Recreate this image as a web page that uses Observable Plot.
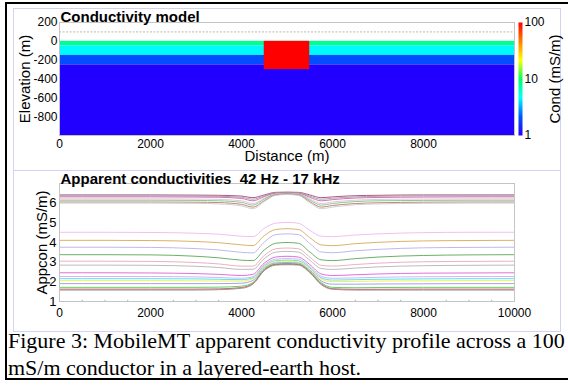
<!DOCTYPE html>
<html><head><meta charset="utf-8">
<script src="https://cdn.jsdelivr.net/npm/d3@7"></script>
<script src="https://cdn.jsdelivr.net/npm/@observablehq/plot@0.6"></script>
<style>
body{margin:0;background:#fff;}
#fig{position:relative;width:568px;height:385px;overflow:hidden;background:#fff;font-family:"Liberation Sans",Arial,sans-serif;}
#fig svg{position:absolute;left:0;top:0;overflow:visible;background:transparent;}
.outer{position:absolute;left:5px;top:2px;width:620px;height:374px;border:2px solid #000;border-right:none;}
.panel{position:absolute;left:13px;top:8px;width:546px;height:322px;border:1.5px solid #d2d2f4;}
.divider{position:absolute;left:13px;top:169.5px;width:548px;height:0;border-top:1.5px solid #d2d2f4;}
.caption{position:absolute;left:8px;top:327px;font-family:"Liberation Serif","Times New Roman",serif;font-size:22px;line-height:27px;white-space:nowrap;color:#000;}
</style></head>
<body>
<div id="fig">
  <div class="outer"></div>
  <div class="panel"></div>
  <div class="divider"></div>
  <div class="caption">Figure 3: MobileMT apparent conductivity profile across a 100<br>mS/m conductor in a layered-earth host.</div>
</div>
<script>
// ---------- Data ----------
// Conductivity model (top panel)
const layerTop    = [0, -50, -150, -250];
const layerBottom = [-50, -150, -250, -1000];
const layerCond   = [8, 4.5, 2, 1];          // mS/m
const blockX      = [4500, 5500];
const blockZ      = [0, -300];
const blockCond   = 100;                     // mS/m
const sensorElevation = 100;
const modelXTicks = [0, 2000, 4000, 6000, 8000];
const modelYTicks = [200, 0, -200, -400, -600, -800];
const condTicks   = [1, 10, 100];

// Apparent conductivities (bottom panel)
const distances = [0,1000,2000,3000,3500,4000,4250,4500,4750,5000,5250,5500,5750,6000,6500,7000,8000,9000,10000];
const s01 = [6.42,6.42,6.42,6.41,6.40,6.36,6.28,6.42,6.55,6.56,6.55,6.42,6.28,6.32,6.38,6.40,6.42,6.42,6.42];
const s02 = [6.37,6.37,6.37,6.36,6.35,6.30,6.20,6.38,6.53,6.55,6.53,6.36,6.20,6.25,6.32,6.35,6.37,6.37,6.37];
const s03 = [6.32,6.32,6.32,6.31,6.30,6.24,6.12,6.33,6.50,6.52,6.50,6.30,6.12,6.18,6.26,6.29,6.31,6.32,6.32];
const s04 = [6.22,6.22,6.22,6.21,6.19,6.12,5.98,6.25,6.47,6.50,6.47,6.22,5.98,6.06,6.15,6.19,6.21,6.22,6.22];
const s05 = [6.15,6.15,6.15,6.14,6.12,6.04,5.90,6.20,6.45,6.48,6.45,6.16,5.90,5.98,6.08,6.12,6.14,6.15,6.15];
const s06 = [6.06,6.06,6.06,6.05,6.03,5.94,5.80,6.12,6.42,6.46,6.42,6.08,5.80,5.88,5.98,6.02,6.05,6.06,6.06];
const s07 = [6.00,6.00,6.00,5.99,5.96,5.86,5.72,6.08,6.40,6.44,6.40,6.02,5.72,5.80,5.92,5.96,5.99,6.00,6.00];
const s08 = [4.52,4.52,4.51,4.47,4.42,4.32,4.30,4.72,4.98,5.02,4.98,4.62,4.32,4.30,4.38,4.44,4.50,4.52,4.52];
const s09 = [4.11,4.11,4.10,4.05,3.99,3.88,3.84,4.35,4.66,4.70,4.66,4.25,3.88,3.84,3.94,4.01,4.08,4.10,4.11];
const s10 = [3.76,3.76,3.75,3.69,3.62,3.50,3.47,4.02,4.40,4.44,4.40,3.95,3.52,3.48,3.58,3.65,3.73,3.75,3.76];
const s11 = [3.38,3.38,3.37,3.30,3.22,3.10,3.08,3.62,3.96,4.00,3.96,3.52,3.12,3.08,3.18,3.26,3.34,3.37,3.38];
const s12 = [3.05,3.05,3.04,2.98,2.91,2.80,2.80,3.34,3.68,3.72,3.68,3.26,2.84,2.80,2.88,2.95,3.02,3.04,3.05];
const s13 = [2.85,2.85,2.84,2.79,2.73,2.63,2.64,3.18,3.51,3.55,3.51,3.10,2.68,2.63,2.70,2.76,2.82,2.84,2.85];
const s14 = [2.46,2.46,2.45,2.42,2.38,2.32,2.38,2.95,3.26,3.30,3.26,2.88,2.40,2.32,2.36,2.40,2.44,2.45,2.46];
const s15 = [2.27,2.27,2.27,2.25,2.22,2.18,2.26,2.86,3.15,3.18,3.15,2.78,2.28,2.18,2.20,2.23,2.26,2.27,2.27];
const s16 = [2.16,2.16,2.16,2.15,2.13,2.11,2.20,2.80,3.07,3.10,3.07,2.72,2.20,2.09,2.11,2.13,2.15,2.16,2.16];
const s17 = [2.06,2.06,2.06,2.05,2.04,2.04,2.15,2.76,3.02,3.05,3.02,2.67,2.14,2.01,2.02,2.04,2.05,2.06,2.06];
const s18 = [1.91,1.91,1.91,1.91,1.91,1.93,2.07,2.70,2.96,2.98,2.96,2.60,2.05,1.88,1.88,1.89,1.90,1.91,1.91];
const s19 = [1.72,1.72,1.72,1.72,1.73,1.78,1.96,2.64,2.91,2.93,2.91,2.54,1.96,1.72,1.70,1.71,1.72,1.72,1.72];
const s20 = [1.63,1.63,1.63,1.63,1.64,1.71,1.91,2.60,2.88,2.90,2.88,2.50,1.90,1.65,1.62,1.62,1.63,1.63,1.63];
const s21 = [1.58,1.58,1.58,1.58,1.60,1.67,1.88,2.57,2.85,2.87,2.85,2.47,1.86,1.62,1.58,1.58,1.58,1.58,1.58];
const appconSeries = [s01,s02,s03,s04,s05,s06,s07,s08,s09,s10,s11,s12,s13,s14,s15,s16,s17,s18,s19,s20,s21];
const appconXTicks = [0, 2000, 4000, 6000, 8000, 10000];
const appconYTicks = [1, 2, 3, 4, 5, 6];
const minorXTicks  = [500,1000,1500,2500,3000,3500,4500,5000,5500,6500,7000,7500,8500,9000,9500];

// ---------- Styles ----------
const lineColors = ["#a04878","#a89aa8","#c868a8","#e8b8e0","#78c878","#b87878","#cccccc",
  "#f0b8f0","#d8a858","#b8b0ec","#58a858","#e8a8b8","#b4b4b4","#d860d8","#c8b0f0",
  "#48e0e8","#f0f048","#9898e8","#58c858","#c85050","#909090"];
const jet = d3.piecewise(d3.interpolateRgb, ["#2200ff","#0055ff","#00ffff","#00ff66","#ffff00","#ff8000","#ff0000"]);
const font = "'Liberation Sans', Arial, sans-serif";
const plain = d => String(d);
const fig = document.getElementById("fig");

// ---------- Top panel: conductivity model ----------
const layers = layerTop.map((t, i) => ({x1: 0, x2: 10000, y1: t, y2: layerBottom[i], cond: layerCond[i]}));
const block = [{x1: blockX[0], x2: blockX[1], y1: blockZ[0], y2: blockZ[1], cond: blockCond}];

const model = Plot.plot({
  width: 568, height: 170,
  marginLeft: 59, marginRight: 54, marginTop: 22, marginBottom: 35,
  style: {fontFamily: font, fontSize: "12px", color: "#000", background: "transparent", overflow: "visible"},
  x: {domain: [0, 10000], axis: null},
  y: {domain: [-1000, 200], axis: null},
  color: {type: "log", domain: [1, 100], interpolate: jet},
  marks: [
    Plot.rect(layers, {x1: "x1", x2: "x2", y1: "y1", y2: "y2", fill: "cond"}),
    Plot.rect(block, {x1: "x1", x2: "x2", y1: "y1", y2: "y2", fill: "cond"}),
    Plot.ruleY([sensorElevation], {stroke: "#b8b8b8", strokeDasharray: "2,1.5"}),
    Plot.frame({stroke: "#c4c4c4"}),
    Plot.axisX(modelXTicks, {tickSize: 0, tickPadding: 4, label: null, fontSize: 12, tickFormat: plain}),
    Plot.axisY(modelYTicks, {tickSize: 0, tickPadding: 2, label: null, fontSize: 12, tickFormat: plain}),
    Plot.text(["Distance (m)"], {text: d => d, frameAnchor: "bottom", textAnchor: "middle", dy: 25, lineAnchor: "bottom", fontSize: 15}),
    Plot.text(["Elevation (m)"], {text: d => d, frameAnchor: "left", textAnchor: "middle", lineAnchor: "middle", dx: -34, rotate: -90, fontSize: 15}),
    Plot.text(["Conductivity model"], {text: d => d, frameAnchor: "top-left", textAnchor: "start", lineAnchor: "bottom", dy: -1, dx: 1, fontSize: 15, fontWeight: "bold"})
  ]
});
fig.appendChild(model);

// ---------- Colour bar ----------
const cbar = Plot.plot({
  width: 568, height: 170,
  marginLeft: 518, marginRight: 46, marginTop: 22, marginBottom: 35,
  style: {fontFamily: font, fontSize: "12px", color: "#000", background: "transparent", overflow: "visible"},
  x: {domain: [0, 1], axis: null},
  y: {domain: [0, 2], axis: null},
  color: {type: "log", domain: [1, 100], interpolate: jet},
  marks: [
    Plot.raster({x1: 0, x2: 1, y1: 0, y2: 2, fill: (x, y) => 10 ** y}),
    Plot.axisY(condTicks.map(v => Math.log10(v)), {anchor: "right", tickSize: 0, tickPadding: 2, label: null, tickFormat: v => String(Math.round(10 ** v)), fontSize: 12}),
    Plot.text(["Cond (mS/m)"], {text: d => d, frameAnchor: "right", textAnchor: "middle", lineAnchor: "middle", dx: 33, rotate: -90, fontSize: 15})
  ]
});
fig.appendChild(cbar);

// ---------- Bottom panel: apparent conductivities ----------
const rows = appconSeries.flatMap((vals, i) => vals.map((v, j) => ({x: distances[j], y: v, s: i, c: lineColors[i]})));

const appcon = Plot.plot({
  width: 568, height: 335,
  marginLeft: 59, marginRight: 54, marginTop: 183, marginBottom: 34,
  style: {fontFamily: font, fontSize: "12px", color: "#000", background: "transparent", overflow: "visible"},
  x: {domain: [0, 10000], axis: null},
  y: {domain: [1, 7], axis: null},
  color: {type: "identity"},
  marks: [
    Plot.ruleX(minorXTicks, {y1: 1, y2: 1.06, stroke: "#aaaaaa"}),
    Plot.line(rows, {x: "x", y: "y", z: "s", stroke: "c", strokeWidth: 1, strokeOpacity: 0.9, curve: "monotone-x"}),
    Plot.frame({stroke: "#c4c4c4"}),
    Plot.axisX(appconXTicks, {tickSize: 0, tickPadding: 7, label: null, fontSize: 12, tickFormat: plain}),
    Plot.axisY(appconYTicks, {tickSize: 0, tickPadding: 3, label: null, fontSize: 13, tickFormat: plain}),
    Plot.text(["Appcon (mS/m)"], {text: d => d, frameAnchor: "left", textAnchor: "middle", lineAnchor: "middle", dx: -17, rotate: -90, fontSize: 15}),
    Plot.text(["Apparent conductivities  42 Hz - 17 kHz"], {text: d => d, frameAnchor: "top-left", textAnchor: "start", lineAnchor: "bottom", dy: 0, dx: 1, fontSize: 15, fontWeight: "bold"})
  ]
});
fig.appendChild(appcon);
</script>
</body></html>
